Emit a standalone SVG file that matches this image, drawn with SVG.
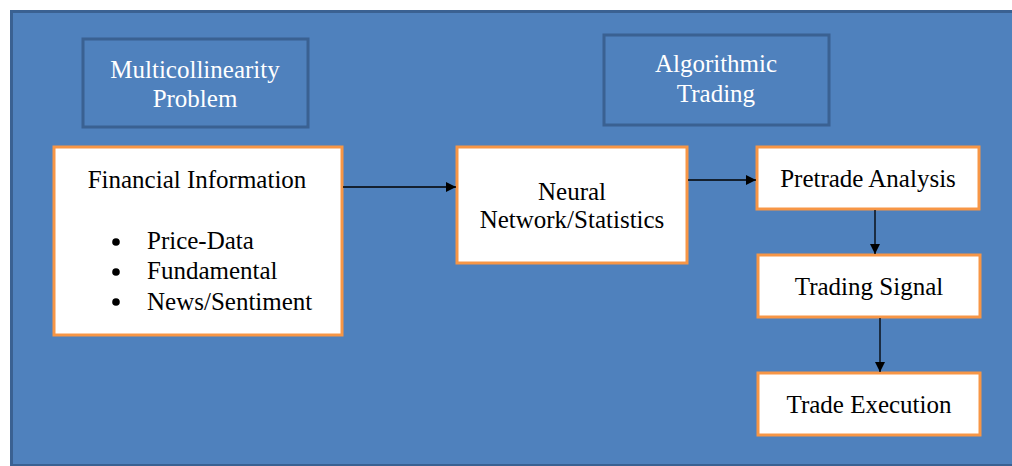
<svg xmlns="http://www.w3.org/2000/svg" width="1012" height="466" viewBox="0 0 1012 466">
<style>
text{font-family:'Liberation Serif',serif;font-size:25px;text-anchor:middle}
.hdr rect{fill:#4F81BD;stroke:#3A6192;stroke-width:3}
.hdr text{fill:#FFFFFF}
.box rect{fill:#FFFFFF;stroke:#F79646;stroke-width:3}
.box text{fill:#000000}
.box text.l{text-anchor:start}
.dot{fill:#000}
.conn line{stroke:#000;stroke-width:1.3;fill:none}
</style>
<defs>
<marker id="ah" viewBox="0 0 10 10" refX="10" refY="5" markerWidth="10" markerHeight="10" markerUnits="userSpaceOnUse" orient="auto">
<path d="M0,0 L10,5 L0,10 z" fill="#000"/>
</marker>
</defs>
<rect x="0" y="0" width="1012" height="466" fill="#FFFFFF"/>
<rect x="11.5" y="11.5" width="1010" height="454" fill="#4F81BD" stroke="#3A6192" stroke-width="3"/>
<g id="multicollinearity" class="hdr">
<rect x="83" y="39" width="225" height="88"/>
<text x="195" y="78">Multicollinearity</text>
<text x="195" y="107">Problem</text>
</g>
<g id="algorithmic" class="hdr">
<rect x="604" y="35" width="225" height="90"/>
<text x="716" y="72">Algorithmic</text>
<text x="716" y="102">Trading</text>
</g>
<g id="financial" class="box">
<rect x="54" y="147" width="288" height="188"/>
<text x="197" y="188">Financial Information</text>
<circle class="dot" cx="116" cy="242" r="3.8"/>
<circle class="dot" cx="116" cy="272" r="3.8"/>
<circle class="dot" cx="116" cy="302" r="3.8"/>
<text class="l" x="147" y="249">Price-Data</text>
<text class="l" x="147" y="279">Fundamental</text>
<text class="l" x="147" y="310">News/Sentiment</text>
</g>
<g id="neural" class="box">
<rect x="457" y="147" width="230" height="116"/>
<text x="572" y="200">Neural</text>
<text x="572" y="228">Network/Statistics</text>
</g>
<g id="pretrade" class="box">
<rect x="757" y="147" width="222" height="62"/>
<text x="868" y="187">Pretrade Analysis</text>
</g>
<g id="signal" class="box">
<rect x="758" y="255" width="222" height="62"/>
<text x="869" y="295">Trading Signal</text>
</g>
<g id="execution" class="box">
<rect x="758" y="373" width="222" height="62"/>
<text x="869" y="413">Trade Execution</text>
</g>
<g id="connectors" class="conn">
<line x1="343" y1="187" x2="456" y2="187" marker-end="url(#ah)"/>
<line x1="688" y1="180" x2="756" y2="180" marker-end="url(#ah)"/>
<line x1="875" y1="210" x2="875" y2="254" marker-end="url(#ah)"/>
<line x1="880" y1="318" x2="880" y2="372" marker-end="url(#ah)"/>
</g>
</svg>
